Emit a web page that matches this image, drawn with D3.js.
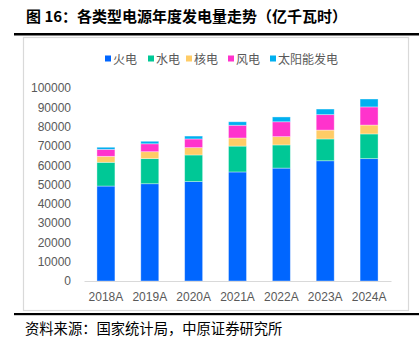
<!DOCTYPE html>
<html>
<head>
<meta charset="utf-8">
<script src="https://cdn.jsdelivr.net/npm/d3@7"></script>
<style>
  body { margin: 0; background: #fff; }
  svg { display: block; }
</style>
</head>
<body>
<div id="chart"></div>
<script>
// data (亿千瓦时)
let years = ["2018A", "2019A", "2020A", "2021A", "2022A", "2023A", "2024A"]
let seriesNames = ["火电", "水电", "核电", "风电", "太阳能发电"]
let thermal = [49200, 50400, 51500, 56500, 58500, 62300, 63400]
let hydro = [12300, 13000, 13800, 13400, 12000, 11300, 12800]
let nuclear = [3100, 3600, 3800, 4200, 4300, 4600, 4600]
let wind = [3600, 4100, 4500, 6600, 7700, 8000, 9400]
let solar = [1100, 1300, 1500, 1800, 2500, 2900, 4100]
let yTicks = [0, 10000, 20000, 30000, 40000, 50000, 60000, 70000, 80000, 90000, 100000]

let colors = ["#0066ff", "#00c896", "#ffcc66", "#ff33cc", "#00b0f0"]

let svgWidth = 419
let svgHeight = 338

let svg = d3.select("#chart")
    .append("svg")
    .attr("width", svgWidth)
    .attr("height", svgHeight);

// title + rules
svg.append("text")
    .attr("x", 26)
    .attr("y", 22)
    .style("font-family", "'Noto Sans CJK SC', sans-serif")
    .style("font-weight", "700")
    .style("font-size", "15px")
    .attr("fill", "#000")
    .text("图 16：各类型电源年度发电量走势（亿千瓦时）");

svg.append("rect")
    .attr("x", 14).attr("y", 33)
    .attr("width", 405).attr("height", 2.5)
    .attr("fill", "#000");

svg.append("rect")
    .attr("x", 23.5).attr("y", 37.5)
    .attr("width", 385).attr("height", 273)
    .attr("fill", "none")
    .attr("stroke", "#d9d9d9")
    .attr("stroke-width", 1.2);

svg.append("rect")
    .attr("x", 14).attr("y", 313)
    .attr("width", 405).attr("height", 2.2)
    .attr("fill", "#000");

svg.append("text")
    .attr("x", 25)
    .attr("y", 334)
    .style("font-family", "'Noto Sans CJK SC', serif")
    .style("font-size", "14.3px")
    .attr("fill", "#000")
    .text("资料来源：国家统计局，中原证券研究所");

// plot area
let margin = { top: 88, left: 84, right: 28, bottom: 57 }
let width = svgWidth - margin.left - margin.right
let height = svgHeight - margin.top - margin.bottom

let chartGroup = svg.append("g")
    .attr("transform", `translate(${margin.left}, ${margin.top})`);

let xScale = d3.scaleBand()
    .domain(years)
    .range([0, width])
    .paddingInner(0.59)
    .paddingOuter(0.295);

let yScale = d3.scaleLinear()
    .domain([0, 100000])
    .range([height, 0]);

let table = years.map((y, i) => ({
    year: y,
    "火电": thermal[i],
    "水电": hydro[i],
    "核电": nuclear[i],
    "风电": wind[i],
    "太阳能发电": solar[i]
}));

let stacked = d3.stack().keys(seriesNames)(table);

chartGroup.selectAll("g.layer")
    .data(stacked)
    .enter()
    .append("g")
    .attr("class", "layer")
    .attr("fill", (d, i) => colors[i])
    .selectAll("rect")
    .data(d => d)
    .enter()
    .append("rect")
    .attr("x", d => xScale(d.data.year))
    .attr("y", d => yScale(d[1]))
    .attr("width", xScale.bandwidth())
    .attr("height", d => yScale(d[0]) - yScale(d[1]))
    .attr("stroke", "#ffffff")
    .attr("stroke-opacity", 0.45)
    .attr("stroke-width", 0.8);

// axes
let leftAxis = d3.axisLeft(yScale).tickValues(yTicks).tickSize(0).tickPadding(13).tickFormat(d3.format("d"));
let bottomAxis = d3.axisBottom(xScale).tickSize(0).tickPadding(11);

let yAxisG = chartGroup.append("g").call(leftAxis);
yAxisG.select(".domain").remove();

let xAxisG = chartGroup.append("g")
    .attr("transform", `translate(0, ${height})`)
    .call(bottomAxis);
xAxisG.select(".domain").attr("stroke", "#d9d9d9");

chartGroup.selectAll(".tick text")
    .style("font-family", "'Liberation Sans', Arial, sans-serif")
    .style("font-size", "12px")
    .attr("fill", "#595959");

// legend
let legendX = [105, 148, 186, 228, 270]
let legend = svg.append("g")
    .selectAll("g")
    .data(seriesNames)
    .enter()
    .append("g")
    .attr("transform", (d, i) => `translate(${legendX[i]}, 59)`);

legend.append("rect")
    .attr("x", 0).attr("y", -3.5)
    .attr("width", 6).attr("height", 6)
    .attr("fill", (d, i) => colors[i]);

legend.append("text")
    .attr("x", 8)
    .attr("y", 4.5)
    .style("font-family", "'Noto Sans CJK SC', sans-serif")
    .style("font-size", "12px")
    .attr("fill", "#595959")
    .text(d => d);
</script>
</body>
</html>
